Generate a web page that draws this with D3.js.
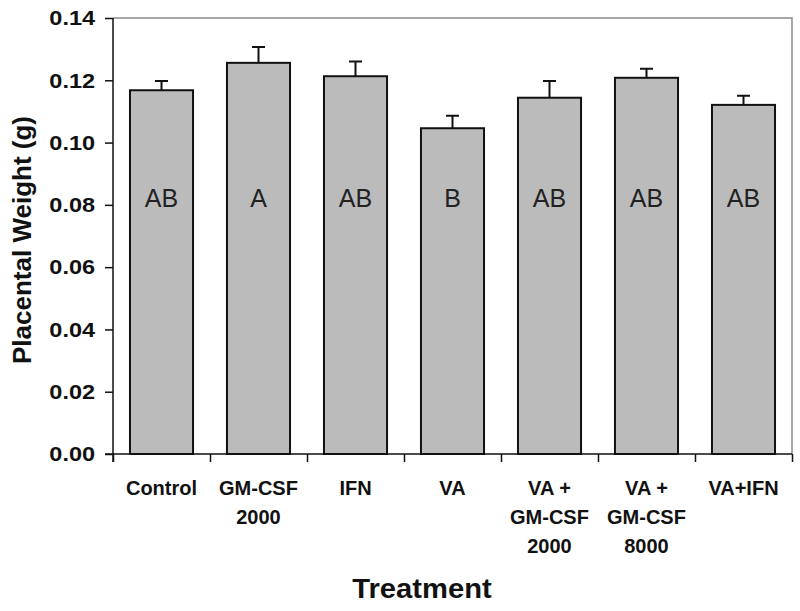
<!DOCTYPE html>
<html><head><meta charset="utf-8">
<script src="https://cdn.jsdelivr.net/npm/d3@7"></script>
<style>body{margin:0;background:#fff}svg{display:block}text{font-family:"Liberation Sans",Arial,sans-serif}</style>
</head><body><svg id="c" width="800" height="611"></svg>
<script>
const categories = [["Control"],["GM-CSF","2000"],["IFN"],["VA"],["VA +","GM-CSF","2000"],["VA +","GM-CSF","8000"],["VA+IFN"]];
const means = [0.1168, 0.1256, 0.1213, 0.1046, 0.1144, 0.1208, 0.1121];
const errors = [0.0030, 0.0051, 0.0047, 0.0040, 0.0054, 0.0029, 0.0029];
const letters = ["AB","A","AB","B","AB","AB","AB"];
const yTicks = [0,0.02,0.04,0.06,0.08,0.10,0.12,0.14];

const svg = d3.select("#c");
const m = {l:113, r:8, t:18, b:157};
const W = 800, H = 611;
const ids = d3.range(categories.length);
const x = d3.scaleBand().domain(ids).range([m.l, W-m.r]).paddingInner(0.35).paddingOuter(0.175);
const xb = d3.scaleLinear().domain([0, ids.length]).range([m.l, W-m.r]);
const y = d3.scaleLinear().domain([0,0.14]).range([H-m.b, m.t]);

// frame top/right
svg.append("path").attr("d",`M${m.l},${y(0.14)}H${W-m.r}V${y(0)}`).attr("fill","none").attr("stroke","#8a8a8a").attr("stroke-width",1.5);

// bars
svg.selectAll("rect.bar").data(means).join("rect")
  .attr("x",(d,i)=>x(i)).attr("width",x.bandwidth())
  .attr("y",d=>y(d)).attr("height",d=>y(0)-y(d))
  .attr("fill","#bbbbbb").attr("stroke","#111").attr("stroke-width",2);

// error bars
const cap = 6.5;
svg.selectAll("path.err").data(means).join("path")
  .attr("d",(d,i)=>{const cx=x(i)+x.bandwidth()/2;return `M${cx},${y(d)}V${y(d+errors[i])}M${cx-cap},${y(d+errors[i])}H${cx+cap}`;})
  .attr("stroke","#111").attr("stroke-width",2).attr("fill","none");

// letters
svg.selectAll("text.let").data(letters).join("text")
  .attr("x",(d,i)=>x(i)+x.bandwidth()/2).attr("y",y(0.0793))
  .attr("text-anchor","middle").attr("font-size",25).attr("fill","#222").text(d=>d);

// y axis
const ya = svg.append("g").attr("transform",`translate(${m.l},0)`)
  .call(d3.axisLeft(y).tickValues(yTicks).tickFormat(d3.format(".2f")).tickSize(8).tickPadding(8));
ya.select(".domain").attr("d",`M0,${y(0.14)}V${y(0)+8}`).attr("stroke","#111").attr("stroke-width",1.5);
ya.selectAll(".tick line").attr("stroke","#111").attr("stroke-width",1.5);
ya.selectAll(".tick text").attr("font-size",21).attr("font-weight","bold").attr("fill","#111")
  .attr("font-family","'Liberation Sans',Arial,sans-serif").attr("transform","scale(1.12,1)");

// x axis
const xa = svg.append("g").attr("transform",`translate(0,${y(0)})`)
  .call(d3.axisBottom(xb).tickValues(d3.range(ids.length+1)).tickSize(8).tickFormat(""));
xa.select(".domain").attr("d",`M${m.l-8},0H${W-m.r}`).attr("stroke","#111").attr("stroke-width",1.5);
xa.selectAll(".tick line").attr("stroke","#111").attr("stroke-width",1.5);

// category labels
const cl = svg.selectAll("text.cat").data(categories).join("text")
  .attr("text-anchor","middle").attr("font-size",20).attr("font-weight","bold").attr("fill","#111");
cl.each(function(lines,i){
  d3.select(this).selectAll("tspan").data(lines).join("tspan")
    .attr("x",x(i)+x.bandwidth()/2).attr("y",(d,j)=>y(0)+41+j*29).text(d=>d);
});

// axis titles
svg.append("text").attr("transform","translate(422,598) scale(1.08,1)").attr("text-anchor","middle")
  .attr("font-size",27).attr("font-weight","bold").attr("fill","#111").text("Treatment");
svg.append("text").attr("transform",`translate(31,${(y(0)+y(0.14))/2+4}) rotate(-90)`).attr("text-anchor","middle")
  .attr("font-size",26).attr("font-weight","bold").attr("fill","#111").text("Placental Weight (g)");
</script></body></html>
